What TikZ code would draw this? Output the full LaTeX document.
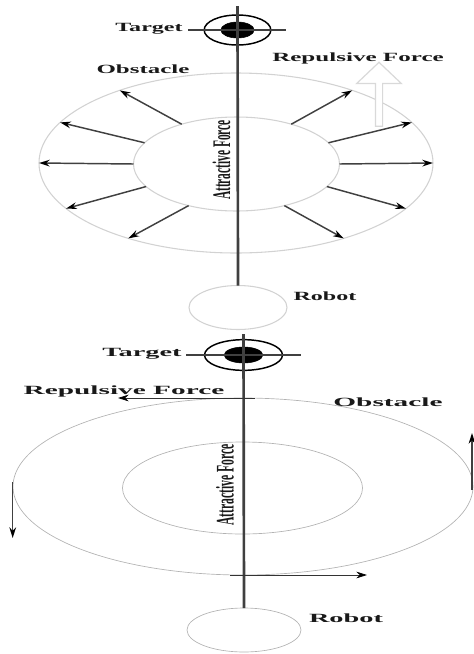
\documentclass[tikz,border=0pt]{standalone}
\usepackage{fontspec}
\setmainfont{Liberation Serif}
\usetikzlibrary{shapes.geometric,shapes.arrows,arrows.meta}
\tikzset{
    ring/.style={draw, shape=ellipse, inner sep=0pt, outer sep=0pt},
    softring/.style={ring, draw=gray!35, line width=0.8pt},
    thinring/.style={ring, draw=gray!60, line width=0.5pt},
    blackring/.style={ring, draw=black, line width=1.1pt},
    bullseye/.style={ring, fill=black},
    axisline/.style={draw=black!75, line width=2pt},
    crossline/.style={draw=black!75, line width=0.8pt},
    forcearrow/.style={->, draw=black!75, line width=1.1pt},
    flatarrow/.style={->, draw=black!80, line width=0.6pt},
    lab/.style={font=\bfseries\fontsize{9.4pt}{9.4pt}\selectfont, text=black!90, inner sep=0pt, transform shape},
    vertlab/.style={font=\bfseries\fontsize{19pt}{19pt}\selectfont, text=black!90, inner sep=0pt, rotate=90, transform shape}
}
\begin{document}
\begin{tikzpicture}[>={Stealth[length=8pt,width=5pt,color=black]}, x=0.75pt, y=-0.75pt]
    \useasboundingbox (0,0) rectangle (474,654);
    % Upper case: obstacle rings
    \node[softring, minimum width=295.5pt, minimum height=135pt] (outerA) at (236,163) {};
    \node[softring, minimum width=154.5pt, minimum height=70.5pt] (innerA) at (236.5,164) {};
    % Upper case: robot and target
    \node[softring, minimum width=73.5pt, minimum height=33pt] (robotA) at (238,307.5) {};
    \node[blackring, minimum width=50pt, minimum height=22.5pt] (targetA) at (237.5,30) {};
    \node[bullseye, minimum width=25pt, minimum height=12pt] (eyeA) at (237.5,30) {};
    \coordinate (crossAw) at (188,30);
    \coordinate (crossAe) at (286,30);
    \coordinate (axisA) at (237.5,6);
    \draw[crossline] (crossAw) -- (crossAe);
    \draw[axisline] (axisA) -- (robotA.north);
    % Upper case: hollow arrow
    \node[single arrow, draw=gray!30, fill=white, line width=0.9pt, rotate=90, inner sep=0pt, text height=4.5pt, text depth=0pt, minimum height=48pt, single arrow head extend=14pt, single arrow tip angle=93] (hollowA) at (379,96) {};
    % Upper case: radial arrows
    \foreach \from/\to in {144/148, 167/167, 180/180, 194/195, 221/215, 319/325, 346/345, 0/0, 13/13, 36/32}
        \draw[forcearrow] (innerA.\from) -- (outerA.\to);
    % Upper case: labels
    \node[lab, xscale=1.92] (targetlabA) at (149,29) {Target};
    \node[lab, xscale=2.0] (repulsivelabA) at (358,58) {Repulsive Force};
    \node[lab, xscale=1.99] (obstaclelabA) at (143,69) {Obstacle};
    \node[lab, xscale=1.92] (robotlabA) at (325,296) {Robot};
    \node[vertlab, xscale=0.45] (attractivelabA) at (221.5,160) {Attractive Force};

    % Lower case: obstacle rings
    \node[thinring, minimum width=345pt, minimum height=132.75pt] (outerB) at (243,486.5) {};
    \node[thinring, minimum width=180pt, minimum height=69pt] (innerB) at (242.5,488) {};
    % Lower case: robot and target
    \node[thinring, minimum width=85.5pt, minimum height=33pt] (robotB) at (244,630) {};
    \node[blackring, minimum width=58.5pt, minimum height=23pt] (targetB) at (243.5,355) {};
    \node[bullseye, minimum width=29pt, minimum height=12pt] (eyeB) at (243.5,355) {};
    \coordinate (crossBw) at (186,355);
    \coordinate (crossBe) at (301,355);
    \coordinate (axisB) at (243.5,334);
    \draw[crossline] (crossBw) -- (crossBe);
    \draw[axisline] (axisB) -- (robotB.north);
    % Lower case: tangential arrows
    \coordinate (topBs) at (255,398);
    \coordinate (topBe) at (118,398);
    \coordinate (botBs) at (230,575);
    \coordinate (botBe) at (367,575);
    \coordinate (leftBs) at (12.7,482);
    \coordinate (leftBe) at (12.7,538);
    \coordinate (rightBs) at (472,490);
    \coordinate (rightBe) at (472,433);
    \draw[flatarrow] (topBs) -- (topBe);
    \draw[flatarrow] (botBs) -- (botBe);
    \draw[forcearrow] (leftBs) -- (leftBe);
    \draw[forcearrow] (rightBs) -- (rightBe);
    % Lower case: labels
    \node[lab, xscale=2.26] (targetlabB) at (142,354) {Target};
    \node[lab, xscale=2.34] (repulsivelabB) at (124,391) {Repulsive Force};
    \node[lab, xscale=2.34] (obstaclelabB) at (388,402) {Obstacle};
    \node[lab, xscale=2.26] (robotlabB) at (346,618) {Robot};
    \node[vertlab, xscale=0.46] (attractivelabB) at (225,485) {Attractive Force};
\end{tikzpicture}
\end{document}
